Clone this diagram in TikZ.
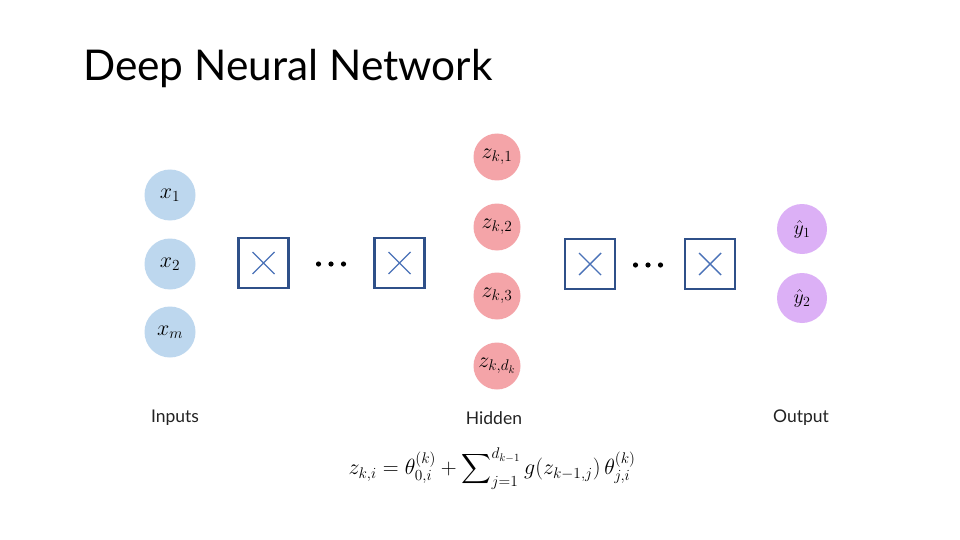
\RequirePackage{fix-cm}
\documentclass[tikz,border=0pt]{standalone}
\usepackage{fontspec}
\usepackage{amsmath}
\setmainfont{Lato}
\definecolor{inblue}{HTML}{BDD7EE}
\definecolor{hidred}{HTML}{F4A4A8}
\definecolor{outpur}{HTML}{DCB0F6}
\definecolor{boxblue}{HTML}{2F5089}
\definecolor{xblue}{HTML}{4A72B8}
\definecolor{lblgray}{HTML}{222222}
\tikzset{
  inneuron/.style={circle,fill=inblue,minimum size=51pt,inner sep=0pt,font=\fontsize{22}{24}\selectfont},
  hidneuron/.style={circle,fill=hidred,minimum size=47pt,inner sep=0pt,font=\fontsize{22}{24}\selectfont},
  outneuron/.style={circle,fill=outpur,minimum size=50pt,inner sep=0pt,font=\fontsize{20}{22}\selectfont},
  opbox/.style={draw=boxblue,line width=2.2pt,minimum size=50pt,inner sep=0pt,path picture={
      \draw[xblue,line width=1.4pt] ([xshift=-11pt,yshift=-11pt]path picture bounding box.center) -- ([xshift=11pt,yshift=11pt]path picture bounding box.center)
        ([xshift=-11pt,yshift=11pt]path picture bounding box.center) -- ([xshift=11pt,yshift=-11pt]path picture bounding box.center);}},
  dotsnode/.style={minimum width=30pt,minimum height=8pt,inner sep=0pt,path picture={
      \foreach \dx in {-12.5,0,12.5}{\fill[black] ([xshift=\dx pt]path picture bounding box.center) circle[radius=2.6pt];}}},
  layerlabel/.style={text=lblgray,font=\fontsize{17.5}{20}\selectfont}
}
\begin{document}
\begin{tikzpicture}[x=1pt,y=-1pt]
\path[fill=white] (0,0) rectangle (960,540);
\node[anchor=west,inner sep=0pt] (title) at (83,69) {\fontsize{42.4}{42}\selectfont Deep Neural Network};
% inputs
\node[inneuron] (x1) at (170,195) {$x_1$};
\node[inneuron] (x2) at (170,264) {$x_2$};
\node[inneuron] (xm) at (170,332) {$x_m$};
% left boxes
\node[opbox] (b1) at (263.5,263) {};
\node[dotsnode] (d1) at (331,264) {};
\node[opbox] (b2) at (399.5,263) {};
% hidden
\node[hidneuron] (z1) at (497,157) {$z_{k,1}$};
\node[hidneuron] (z2) at (497,227) {$z_{k,2}$};
\node[hidneuron] (z3) at (497,296) {$z_{k,3}$};
\node[hidneuron] (z4) at (497,366) {$z_{k,d_k}$};
% right boxes
\node[opbox] (b3) at (590,264) {};
\node[dotsnode] (d2) at (648,265) {};
\node[opbox] (b4) at (710,264) {};
% outputs
\node[outneuron] (y1) at (802,229) {$\hat{y}_1$};
\node[outneuron] (y2) at (802,298) {$\hat{y}_2$};
% labels
\node[layerlabel] (lin) at (175,418) {Inputs};
\node[layerlabel] (lhid) at (494,418) {Hidden};
\node[layerlabel] (lout) at (801,418) {Output};
% formula
\node (eq) at (492,469) {\fontsize{22}{26}\selectfont $\displaystyle z_{k,i}=\theta_{0,i}^{(k)}+\sum\nolimits_{j=1}^{d_{k-1}} g(z_{k-1,j})\,\theta_{j,i}^{(k)}$};
\end{tikzpicture}
\end{document}
